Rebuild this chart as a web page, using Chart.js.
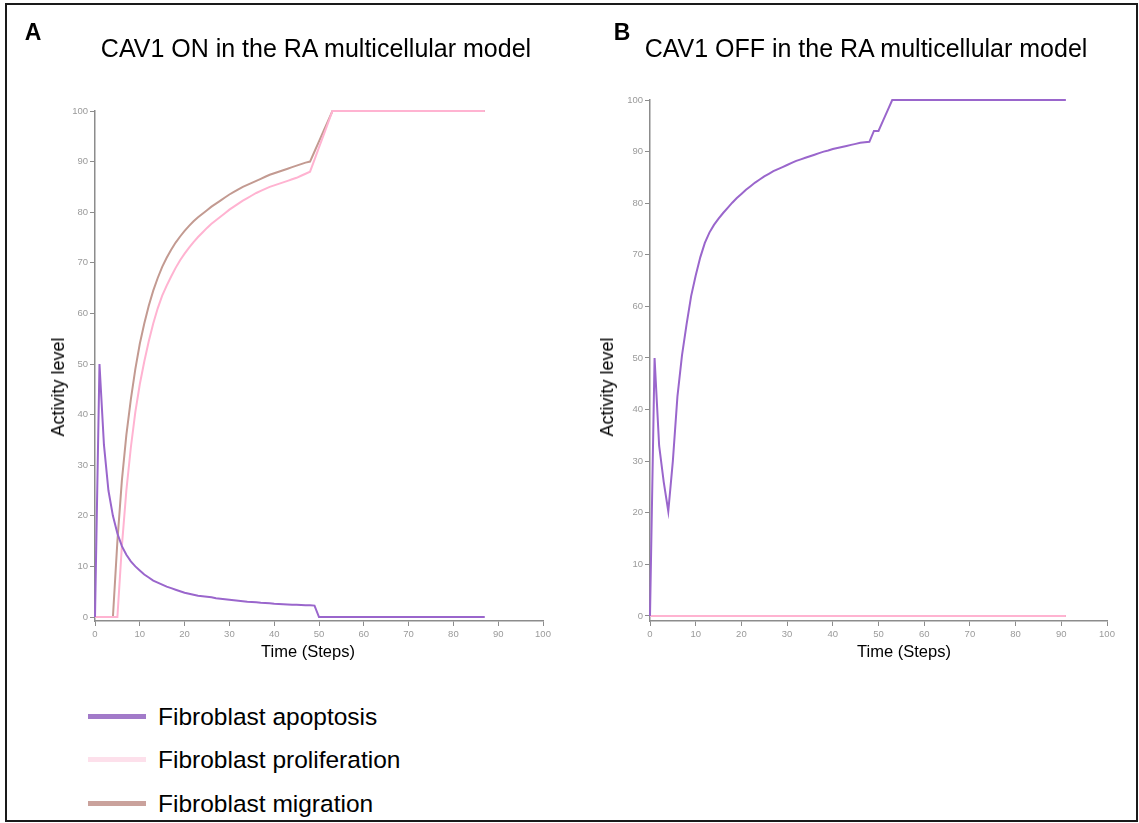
<!DOCTYPE html>
<html><head><meta charset="utf-8">
<script src="https://cdn.jsdelivr.net/npm/chart.js@4/dist/chart.umd.min.js"></script>
<style>
html,body{margin:0;padding:0;background:#fff;}
body{width:1139px;height:823px;position:relative;overflow:hidden;font-family:'Liberation Sans',Arial,sans-serif;}
.frame{position:absolute;left:5px;top:3px;width:1129px;height:815px;border:2px solid #1a1a1a;}
.t{position:absolute;white-space:nowrap;line-height:1;color:#000;}
canvas{position:absolute;}
</style></head><body>
<div class="frame"></div>
<canvas id="cA" width="570" height="700" style="left:0;top:0"></canvas>
<canvas id="cB" width="569" height="700" style="left:570px;top:0"></canvas>
<div id="texts"></div>
<script>
// ---- data ----
const seriesNames = ['Fibroblast apoptosis', 'Fibroblast proliferation', 'Fibroblast migration'];
const panelLetters = ['A', 'B'];
const panelTitles = ['CAV1 ON in the RA multicellular model', 'CAV1 OFF in the RA multicellular model'];
const yAxisTitle = 'Activity level';
const xAxisTitle = 'Time (Steps)';
const xTicks = [0,10,20,30,40,50,60,70,80,90,100];
const yTicks = [0,10,20,30,40,50,60,70,80,90,100];

const stepsA = [0,1,2,3,4,5,6,7,8,9,10,11,12,13,14,15,16,17,18,19,20,21,22,23,24,25,26,27,28,29,30,31,32,33,34,35,36,37,38,39,40,41,42,43,44,45,46,47,48,49,50,51,52,53,54,55,56,57,58,59,60,61,62,63,64,65,66,67,68,69,70,71,72,73,74,75,76,77,78,79,80,81,82,83,84,85,86,87];
const apoptosisA = [0,50,34,25,20,16.5,14,12.3,11,10,
  9.2,8.4,7.8,7.2,6.8,6.4,6.0,5.7,5.4,5.1,
  4.8,4.6,4.4,4.2,4.1,4.0,3.9,3.7,3.6,3.5,
  3.4,3.3,3.2,3.1,3.0,2.95,2.9,2.8,2.75,2.7,
  2.6,2.55,2.5,2.45,2.4,2.4,2.35,2.3,2.3,2.25,
  0,0,0,0,0,0,0,0,0,0,
  0,0,0,0,0,0,0,0,0,0,
  0,0,0,0,0,0,0,0,0,0,
  0,0,0,0,0,0,0,0];
const proliferationA = [0,0,0,0,0,0,14,25,33.5,40.5,
  46,50.5,54.5,58,61,63.5,65.5,67.3,69,70.5,
  71.8,73,74.1,75.1,76,76.9,77.7,78.4,79.1,79.8,
  80.5,81.1,81.7,82.3,82.8,83.3,83.8,84.2,84.6,85,
  85.3,85.6,85.9,86.2,86.5,86.8,87.2,87.6,88,90.4,
  92.8,95.2,97.6,100,100,100,100,100,100,100,
  100,100,100,100,100,100,100,100,100,100,
  100,100,100,100,100,100,100,100,100,100,
  100,100,100,100,100,100,100,100];
const migrationA = [0,0,0,0,0,15,27,36,43,49,
  54,58,61.5,64.5,67,69.2,71,72.6,74,75.2,
  76.3,77.3,78.2,79,79.7,80.4,81.1,81.7,82.3,82.9,
  83.5,84,84.5,85,85.4,85.8,86.2,86.6,87,87.4,
  87.7,88,88.3,88.6,88.9,89.2,89.5,89.8,90,92,
  94,96,98,100,100,100,100,100,100,100,
  100,100,100,100,100,100,100,100,100,100,
  100,100,100,100,100,100,100,100,100,100,
  100,100,100,100,100,100,100,100];

const stepsB = [0,1,2,3,4,5,6,7,8,9,10,11,12,13,14,15,16,17,18,19,20,21,22,23,24,25,26,27,28,29,30,31,32,33,34,35,36,37,38,39,40,41,42,43,44,45,46,47,48,49,50,51,52,53,54,55,56,57,58,59,60,61,62,63,64,65,66,67,68,69,70,71,72,73,74,75,76,77,78,79,80,81,82,83,84,85,86,87,88,89,90,91];
const apoptosisB = [0,50,33,26,20.3,30,42.5,50.5,56.5,62,
  66,69.5,72.3,74.3,75.8,77,78.1,79.1,80.1,81,
  81.8,82.6,83.3,84,84.6,85.2,85.7,86.2,86.6,87,
  87.4,87.8,88.2,88.5,88.8,89.1,89.4,89.7,90,90.2,
  90.5,90.7,90.9,91.1,91.3,91.5,91.7,91.8,91.9,94,
  94,96,98,100,100,100,100,100,100,100,
  100,100,100,100,100,100,100,100,100,100,
  100,100,100,100,100,100,100,100,100,100,
  100,100,100,100,100,100,100,100,100,100,
  100,100];
const proliferationB = [0,0,0,0,0,0,0,0,0,0, 0,0,0,0,0,0,0,0,0,0, 0,0,0,0,0,0,0,0,0,0, 0,0,0,0,0,0,0,0,0,0, 0,0,0,0,0,0,0,0,0,0, 0,0,0,0,0,0,0,0,0,0, 0,0,0,0,0,0,0,0,0,0, 0,0,0,0,0,0,0,0,0,0, 0,0,0,0,0,0,0,0,0,0, 0,0];
const migrationB = [0,0,0,0,0,0,0,0,0,0, 0,0,0,0,0,0,0,0,0,0, 0,0,0,0,0,0,0,0,0,0, 0,0,0,0,0,0,0,0,0,0, 0,0,0,0,0,0,0,0,0,0, 0,0,0,0,0,0,0,0,0,0, 0,0,0,0,0,0,0,0,0,0, 0,0,0,0,0,0,0,0,0,0, 0,0,0,0,0,0,0,0,0,0, 0,0];

// ---- styles ----
const lineColors = ['#9a66cc', '#ffb3d1', '#c39a91'];
const legendColors = ['#a27ac9', '#fde0eb', '#caa29c'];
const FONT = "'Liberation Sans', Arial, sans-serif";

function makeChart(id, steps, series, cfg) {
  const datasets = series.map((vals, i) => ({
    label: seriesNames[i],
    data: vals,
    borderColor: lineColors[i],
    backgroundColor: lineColors[i],
    borderWidth: 2,
    pointRadius: 0,
    tension: 0,
    fill: false,
    clip: false
  }));
  return new Chart(document.getElementById(id), {
    type: 'line',
    data: { labels: steps, datasets },
    options: {
      responsive: false,
      animation: false,
      events: [],
      layout: { padding: { left: 0, top: cfg.top, right: cfg.right, bottom: cfg.bottom } },
      plugins: { legend: { display: false }, tooltip: { enabled: false }, title: { display: false } },
      scales: {
        x: {
          type: 'linear', min: 0, max: 100,
          afterBuildTicks: s => { s.ticks = xTicks.map(v => ({ value: v })); },
          afterFit: s => { s.height = 60; },
          border: { display: true, color: '#8c8c8c', width: 1.5 },
          grid: { display: true, drawOnChartArea: false, drawTicks: true, tickLength: 5, color: '#8c8c8c', lineWidth: 1 },
          ticks: { color: '#9a9a9a', font: { family: FONT, size: 9.5 }, padding: 3, maxRotation: 0, autoSkip: false }
        },
        y: {
          type: 'linear', min: cfg.yMin, max: 100,
          afterBuildTicks: s => { s.ticks = yTicks.map(v => ({ value: v })); },
          afterFit: s => { s.width = cfg.yWidth; },
          border: { display: true, color: '#8c8c8c', width: 1.5 },
          grid: { display: true, drawOnChartArea: false, drawTicks: true, tickLength: 5, color: '#8c8c8c', lineWidth: 1 },
          ticks: { color: '#9a9a9a', font: { family: FONT, size: 9.5 }, padding: 2 }
        }
      }
    }
  });
}

makeChart('cA', stepsA, [apoptosisA, proliferationA, migrationA], { yWidth: 95, top: 111, right: 27, bottom: 19, yMin: -0.79 });
makeChart('cB', stepsB, [apoptosisB, proliferationB, migrationB], { yWidth: 80, top: 100, right: 32, bottom: 19, yMin: -0.97 });

// ---- texts ----
const texts = document.getElementById('texts');
function addText(str, cx, cy, size, extra) {
  const d = document.createElement('div');
  d.className = 't';
  d.textContent = str;
  d.style.left = cx + 'px';
  d.style.top = cy + 'px';
  d.style.fontSize = size + 'px';
  d.style.transform = 'translate(-50%,-50%)' + (extra || '');
  texts.appendChild(d);
  return d;
}
const letterX = [33, 622];
const titleX = [316, 866];
const yTitleX = [58, 607];
const xTitleX = [308, 904];
for (let p = 0; p < 2; p++) {
  const L = addText(panelLetters[p], letterX[p], 32, 23);
  L.style.fontWeight = 'bold';
  addText(panelTitles[p], titleX[p], 48, 25);
  addText(yAxisTitle, yTitleX[p], 387, 18, ' rotate(-90deg)');
  addText(xAxisTitle, xTitleX[p], 651, 16.5);
}
// legend
const legendY = [716.5, 759.5, 803.5];
seriesNames.forEach((name, i) => {
  const sw = document.createElement('div');
  sw.style.cssText = `position:absolute;left:88px;top:${legendY[i] - 2.5}px;width:58px;height:5px;background:${legendColors[i]};`;
  texts.appendChild(sw);
  const d = document.createElement('div');
  d.className = 't';
  d.textContent = name;
  d.style.left = '158px';
  d.style.top = legendY[i] + 'px';
  d.style.fontSize = '24.5px';
  d.style.transform = 'translateY(-50%)';
  texts.appendChild(d);
});
</script>
</body></html>
